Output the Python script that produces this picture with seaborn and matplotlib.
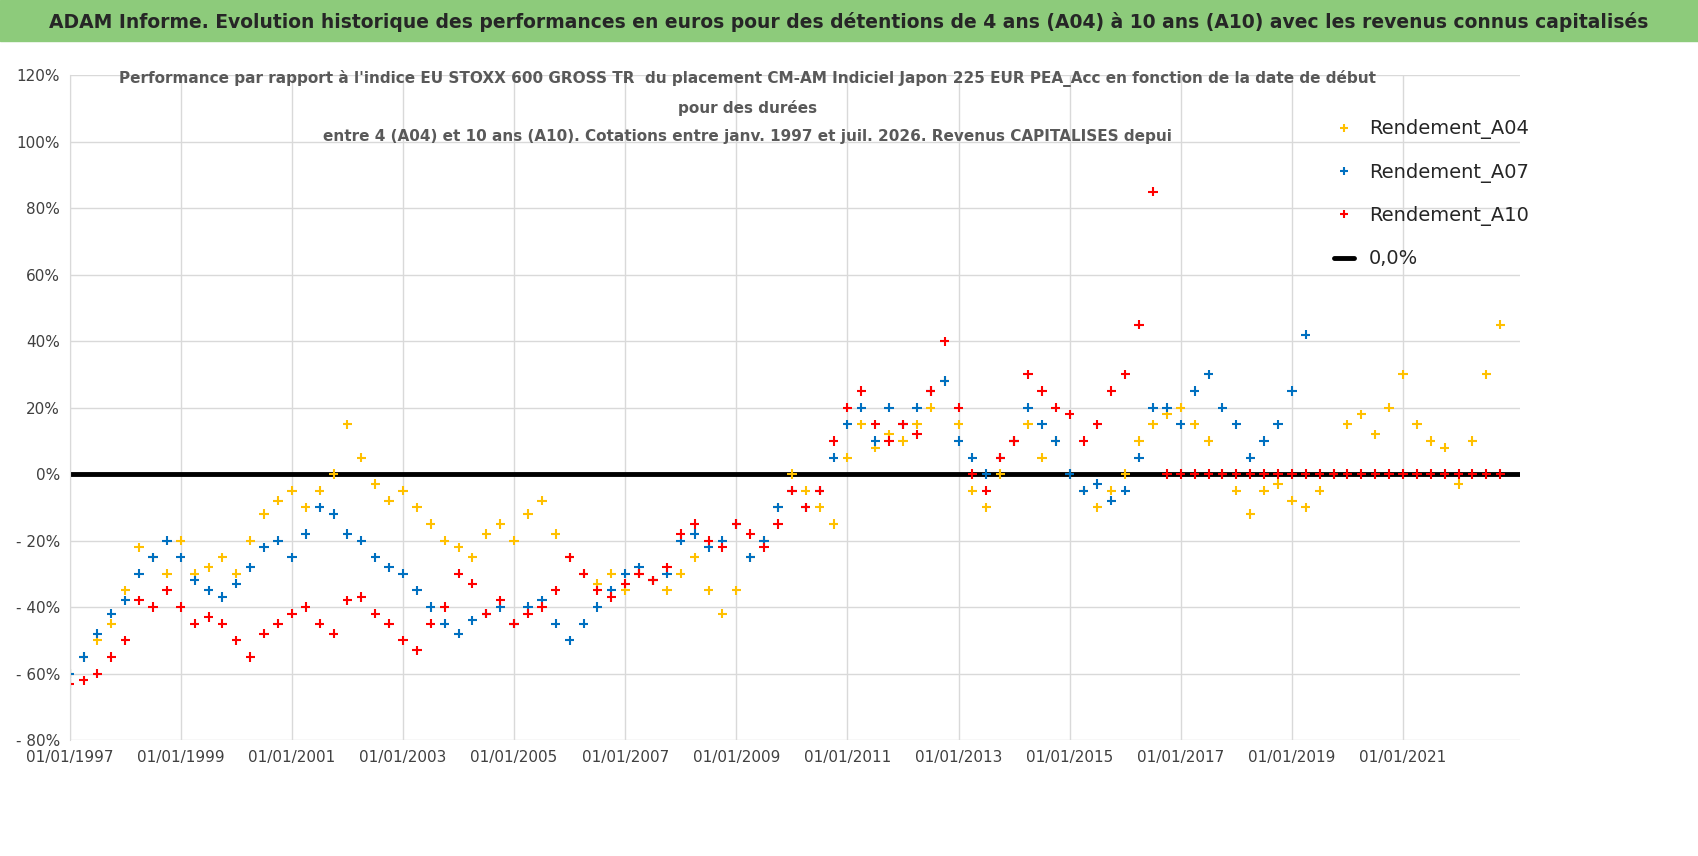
import numpy as np
import pandas as pd
import seaborn as sns
import matplotlib.pyplot as plt
from matplotlib.lines import Line2D

# quarterly readings (start 1997.0), values in %
a04 = [-60, -55, -50, -45, -35, -22, -25, -30, -20, -30, -28, -25, -30, -20, -12, -8,
       -5, -10, -5, 0, 15, 5, -3, -8, -5, -10, -15, -20, -22, -25, -18, -15,
       -20, -12, -8, -18, -25, -30, -33, -30, -35, -30, -32, -35, -30, -25, -35, -42,
       -35, -25, -20, -10, 0, -5, -10, -15, 5, 15, 8, 12, 10, 15, 20, 28,
       15, -5, -10, 0, 10, 15, 5, 10, 0, -5, -10, -5, 0, 10, 15, 18,
       20, 15, 10, 0, -5, -12, -5, -3, -8, -10, -5, 0, 15, 18, 12, 20,
       30, 15, 10, 8, -3, 10, 30, 45]
a07 = [-60, -55, -48, -42, -38, -30, -25, -20, -25, -32, -35, -37, -33, -28, -22, -20,
       -25, -18, -10, -12, -18, -20, -25, -28, -30, -35, -40, -45, -48, -44, -42, -40,
       -45, -40, -38, -45, -50, -45, -40, -35, -30, -28, -32, -30, -20, -18, -22, -20,
       -15, -25, -20, -10, -5, -10, -5, 5, 15, 20, 10, 20, 15, 20, 25, 28,
       10, 5, 0, 5, 10, 20, 15, 10, 0, -5, -3, -8, -5, 5, 20, 20,
       15, 25, 30, 20, 15, 5, 10, 15, 25, 42]
a10 = [-63, -62, -60, -55, -50, -38, -40, -35, -40, -45, -43, -45, -50, -55, -48, -45,
       -42, -40, -45, -48, -38, -37, -42, -45, -50, -53, -45, -40, -30, -33, -42, -38,
       -45, -42, -40, -35, -25, -30, -35, -37, -33, -30, -32, -28, -18, -15, -20, -22,
       -15, -18, -22, -15, -5, -10, -5, 10, 20, 25, 15, 10, 15, 12, 25, 40,
       20, 0, -5, 5, 10, 30, 25, 20, 18, 10, 15, 25, 30, 45, 85,
       0, 0, 0, 0, 0, 0, 0, 0, 0, 0, 0, 0, 0, 0, 0, 0, 0, 0, 0, 0, 0, 0, 0, 0, 0]

series = {"Rendement_A04": a04, "Rendement_A07": a07, "Rendement_A10": a10}
frames = []
for name, vals in series.items():
    frames.append(pd.DataFrame({"t": 1997 + 0.25 * np.arange(len(vals)),
                                "v": vals, "serie": name}))
df = pd.concat(frames)

years = list(range(1997, 2022, 2))
xlabels = ["01/01/%d" % y for y in years]
ytick_vals = list(range(-80, 121, 20))
ylabels = [("- %d%%" % -v) if v < 0 else "%d%%" % v for v in ytick_vals]

sns.set_style("white")
plt.rcParams['font.family'] = ['DejaVu Sans']

fig = plt.figure(figsize=(16.98, 8.56), dpi=100)
# green banner
fig.patches.append(plt.Rectangle((0, 0.952), 1, 0.048, transform=fig.transFigure,
                                 color="#8DCB7B", zorder=0))
fig.text(0.5, 0.974, "ADAM Informe. Evolution historique des performances en euros pour des détentions de 4 ans (A04) à 10 ans (A10) avec les revenus connus capitalisés",
         ha="center", va="center", fontsize=13.5, fontweight="bold")

ax = fig.add_axes([0.041, 0.1355, 0.854, 0.7765])
ax.axhline(0, color="black", lw=3.5, zorder=1)
sns.scatterplot(data=df, x="t", y="v", hue="serie", marker="+", s=45, linewidth=1.5,
                palette=["#FFC000", "#0070C0", "#FF0000"], ax=ax, zorder=2)
ax.set_xlim(1997, 2023.1)
ax.set_ylim(-80, 120)
ax.set_xticks(years)
ax.set_xticklabels(xlabels, fontsize=11, color="#404040")
ax.set_yticks(ytick_vals)
ax.set_yticklabels(ylabels, fontsize=11, color="#404040")
ax.grid(True, color="#D9D9D9", lw=1)
for s in ax.spines.values():
    s.set_visible(False)
ax.spines["left"].set_visible(True)
ax.spines["left"].set_color("#D9D9D9")
ax.set_xlabel("")
ax.set_ylabel("")

h, l = ax.get_legend_handles_labels()
h.append(Line2D([], [], color="black", lw=3.5))
l.append("0,0%")
ax.legend(h, l, loc="upper left", bbox_to_anchor=(0.86, 0.96), frameon=False,
          fontsize=14, labelspacing=1.2, handlelength=1.0, markerscale=0.8)

sub = ["Performance par rapport à l'indice EU STOXX 600 GROSS TR  du placement CM-AM Indiciel Japon 225 EUR PEA_Acc en fonction de la date de début",
       "pour des durées",
       "entre 4 (A04) et 10 ans (A10). Cotations entre janv. 1997 et juil. 2026. Revenus CAPITALISES depui"]
for i, line in enumerate(sub):
    fig.text(0.44, 0.908 - i * 0.034, line, ha="center", va="center",
             fontsize=11, fontweight="bold", color="#595959")

fig.savefig("out.png", dpi=100)
